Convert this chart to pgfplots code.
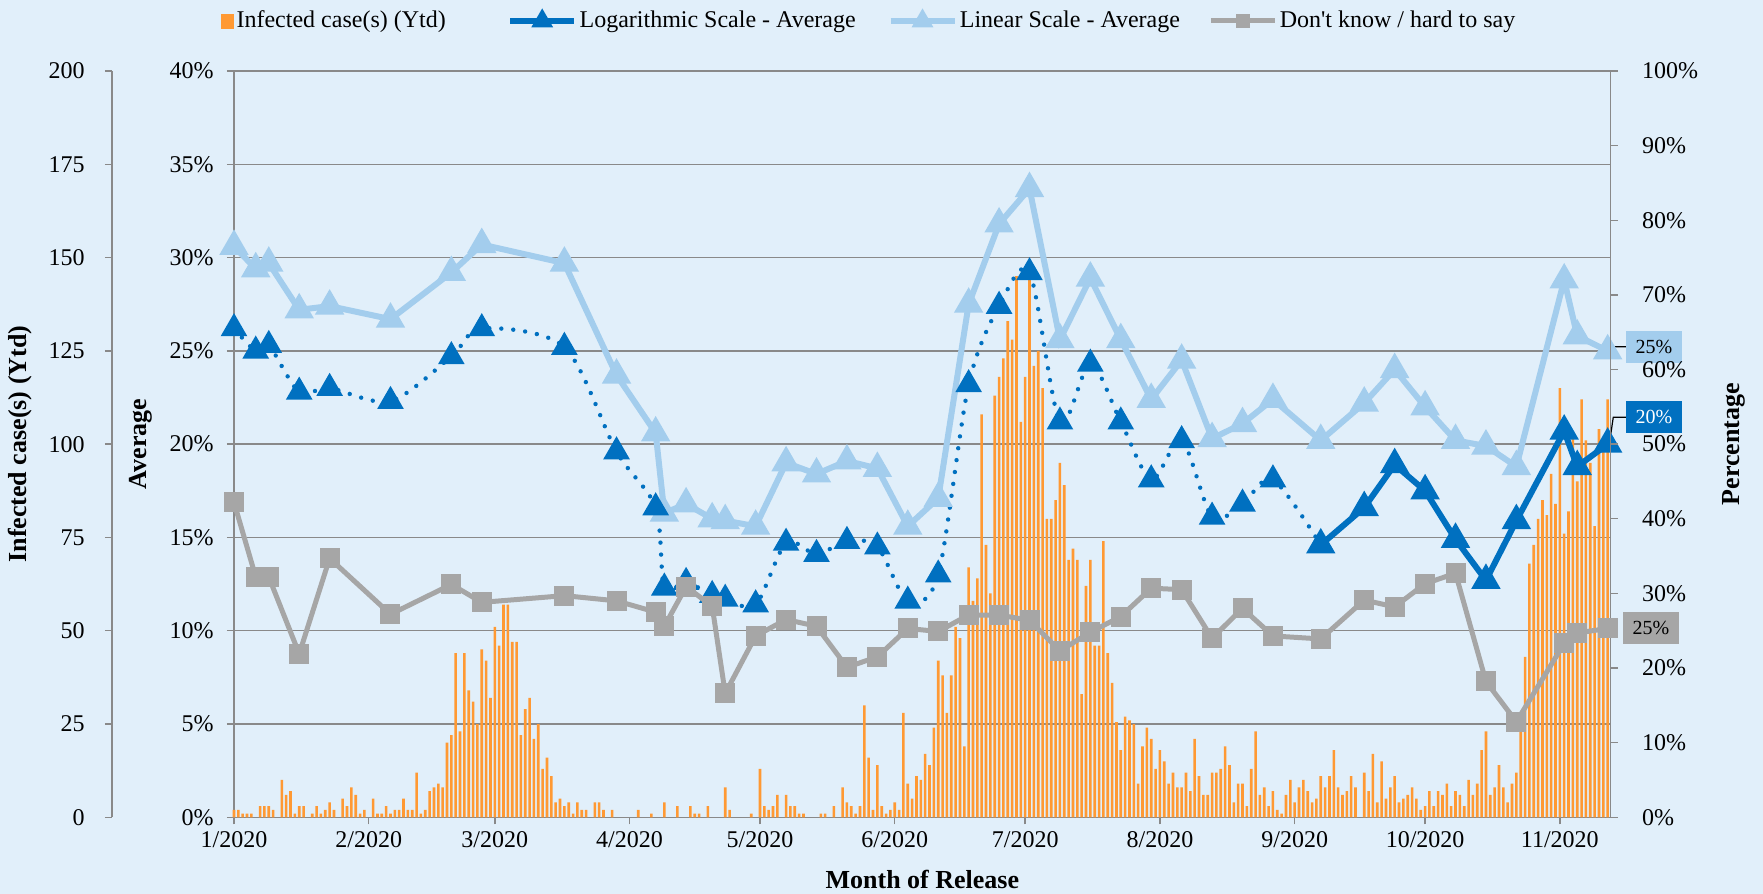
\documentclass[border=0pt]{standalone}
\usepackage{pgfplots}
\pgfplotsset{compat=1.18}
\usepackage{pgfplotstable}
\usepackage{fontspec}
\setmainfont{Liberation Serif}
\definecolor{bg}{HTML}{E1EFFA}
\definecolor{barorange}{HTML}{FF9933}
\definecolor{darkblue}{HTML}{0070C0}
\definecolor{lightblue}{HTML}{A3CDED}
\definecolor{dkgray}{HTML}{A6A6A6}
\definecolor{gridgray}{HTML}{898989}

\pgfplotsset{
  mylineleg/.style={legend image code/.code={\draw[mark repeat=2,mark phase=2,##1,every mark/.append style={scale=0.6}] plot coordinates {(0pt,0pt) (16pt,0pt) (32pt,0pt)};}},
  mybarleg/.style={legend image code/.code={\fill[barorange] (0pt,-3.5pt) rectangle (6pt,3.5pt);}},
  geom/.style={at={(117pt,38.35pt)}, anchor=south west, scale only axis, width=688.35pt, height=373.15pt, xmin=0, xmax=316.7},
  every axis/.append style={/pgf/number format/assume math mode=true},
}
\newcommand{\lblfont}{\bfseries\fontsize{13}{15}\selectfont}

\pgfplotstableread{
day lin logv dk
0 30.6 26.2 42.2
5 29.4 25.0 32.2
8 29.7 25.3 32.2
15 27.2 22.8 21.9
22 27.4 23.0 34.7
36 26.7 22.3 27.2
50 29.2 24.7 31.2
57 30.7 26.2 28.8
76 29.7 25.2 29.7
88 23.7 19.6 29.0
97 20.6 16.6 27.5
99 16.3 12.3 25.6
104 16.8 12.6 30.9
110 16.0 11.9 28.3
113 15.9 11.7 16.6
120 15.6 11.4 24.3
127 19.0 14.7 26.5
134 18.4 14.1 25.6
141 19.1 14.8 20.1
148 18.7 14.5 21.5
155 15.6 11.6 25.3
162 17.1 13.0 24.9
169 27.5 23.2 27.1
176 31.8 27.4 27.1
183 33.7 29.2 26.4
190 25.6 21.2 22.3
197 28.9 24.3 24.8
204 25.6 21.2 26.9
211 22.4 18.1 30.7
218 24.5 20.2 30.5
225 20.3 16.1 24.0
232 21.1 16.8 28.0
239 22.4 18.1 24.3
250 20.2 14.6 23.9
260 22.2 16.6 29.1
267 24.0 18.9 28.2
274 22.0 17.5 31.3
281 20.2 14.9 32.7
288 19.9 12.7 18.2
295 18.8 15.9 12.8
306 28.8 20.7 23.3
309 25.8 18.8 24.7
316 25.0 20.0 25.3
}\linestable

\begin{document}
\fontsize{12}{14.4}\selectfont
\begin{tikzpicture}
\fill[bg] (0,0) rectangle (881.5pt,447pt);
\useasboundingbox (0,0) rectangle (881.5pt,447pt);

% Axis A: Average scale, grid, x axis
\begin{axis}[geom, ymin=0, ymax=40,
  axis line style={gridgray, line width=0.7pt},
  xtick={0,31,60,91,121,152,182,213,244,274,305},
  xticklabels={1/2020,2/2020,3/2020,4/2020,5/2020,6/2020,7/2020,8/2020,9/2020,10/2020,11/2020},
  ytick={0,5,...,40},
  yticklabel={\pgfmathprintnumber{\tick}\%},
  ymajorgrids, major grid style={gridgray, line width=0.7pt},
  tick align=outside, major tick length=3.5pt,
  tick style={gridgray, line width=0.7pt},
  xtick pos=left, ytick pos=left,
  yticklabel style={anchor=east, inner sep=0pt, xshift=-6.5pt},
  xticklabel style={anchor=north, inner sep=0pt, yshift=-3.5pt},
  xlabel={Month of Release}, ylabel={Average},
  every axis x label/.style={at={(axis description cs:0.5,-0.083)}, anchor=center, font=\lblfont},
  every axis y label/.style={at={(axis description cs:-0.0675,0.5)}, anchor=center, rotate=90, font=\lblfont},
]
\addplot[draw=none] coordinates {(0,0)};
\end{axis}

% Axis B: Infected cases (bars), outer left axis
\begin{axis}[at={(56pt,38.35pt)}, anchor=south west, scale only axis,
  width=749.35pt, height=373.15pt, xmin=-28.065, xmax=316.7, ymin=0, ymax=200,
  hide x axis, axis y line*=left,
  axis line style={gridgray, line width=0.7pt},
  ytick={0,25,...,200},
  tick align=outside, major tick length=3.5pt,
  tick style={gridgray, line width=0.7pt},
  yticklabel style={anchor=east, inner sep=0pt, xshift=-10pt},
  ylabel={Infected case(s) (Ytd)},
  every axis y label/.style={at={(axis description cs:-0.0614,0.5)}, anchor=center, rotate=90, font=\lblfont},
]
\addplot[ybar, bar width=1.3pt, fill=barorange, draw=none] coordinates {
(0,2)(1,2)(2,1)(3,1)(4,1)(6,3)(7,3)(8,3)(9,2)(11,10)(12,6)(13,7)(14,1)(15,3)(16,3)(18,1)(19,3)(20,1)(21,2)(22,4)(23,2)(25,5)(26,3)(27,8)(28,6)(29,1)(30,2)(32,5)(33,1)(34,1)(35,3)(36,1)(37,2)(38,2)(39,5)(40,2)(41,2)(42,12)(43,1)(44,2)(45,7)(46,8)(47,9)(48,8)(49,20)(50,22)(51,44)(52,23)(53,44)(54,34)(55,31)(56,25)(57,45)(58,42)(59,32)(60,51)(61,46)(62,57)(63,57)(64,47)(65,47)(66,22)(67,29)(68,32)(69,21)(70,25)(71,13)(72,16)(73,11)(74,4)(75,5)(76,3)(77,4)(78,1)(79,4)(80,2)(81,2)(83,4)(84,4)(85,2)(87,2)(93,2)(96,1)(99,4)(102,3)
(105,3)(106,1)(107,1)(109,3)(113,8)(114,2)(119,1)(121,13)(122,3)(123,2)(124,3)(125,6)(127,6)(128,3)(129,3)(130,1)(131,1)(135,1)(136,1)(138,3)(140,8)(141,4)(142,3)(143,1)(144,3)(145,30)(146,16)(147,2)(148,14)(149,3)(150,1)(151,2)(152,4)(153,2)(154,28)(155,9)(156,5)(157,11)(158,10)(159,17)(160,14)
(161,24)(162,42)(163,38)(164,28)(165,38)(166,51)(167,48)(168,19)(169,67)(170,58)(171,64)(172,108)(173,73)(174,60)(175,113)(176,118)(177,123)(178,133)(179,128)(180,145)(181,106)(182,118)(183,148)(184,121)(185,125)(186,115)(187,80)(188,80)(189,85)(190,95)(191,89)(192,69)(193,72)(194,69)(195,33)(196,62)(197,69)(198,46)(199,46)
(200,74)(201,44)(202,36)(203,25.5)(204,18)(205,27)(206,26)(207,25)(208,9)(209,19)(210,24)(211,21)(212,13)(213,18)(214,15)(215,9)(216,12)(217,8)(218,8)(219,12)(220,7)(221,21)(222,11)(223,6)(224,6)(225,12)(226,12)(227,13)(228,19)(229,14)(230,4)(231,9)(232,9)(233,3)(234,13)(235,23)(236,6)(237,8)(238,3)(239,7)(240,2)(241,1)(242,6)(243,10)(244,4)(245,8)(246,10)(247,7)(248,4)(249,5)(250,11)(251,8)(252,11)(253,18)(254,8)(255,6)(256,7)(257,11)(258,8)(260,12)(261,7)(262,17)(263,4)(264,15)(265,5)(266,8)(267,11)(268,4)(269,5)(270,6)(271,8)(272,5)(273,2)(274,3)(275,7)(276,3)(277,7)(278,6)(279,9)(280,3)(281,7)(282,6)
(283,3)(284,10)(285,6)(286,9)(287,18)(288,23)(289,6)(290,8)(291,14)(292,8)(293,4)(294,9)(295,12)(296,26)(297,43)(298,68)(299,73)(300,80)(301,85)(302,81)(303,92)(304,84)(305,115)(306,76)(307,82)(308,103)(309,90)(310,112)(311,101)(312,95)(313,78)(314,104)(315,100)(316,112)
};
\end{axis}

% Axis C: Average lines
\begin{axis}[geom, ymin=0, ymax=40, hide axis, clip=false]
\addplot[lightblue, line width=3pt, mark=triangle*, mark size=5.5pt] table[x=day,y=lin]{\linestable};
\addplot[darkblue, line width=2.2pt, dash pattern=on 0pt off 6pt, line cap=round, smooth, mark=triangle*, mark size=5.5pt, mark options={solid}, restrict x to domain=0:250] table[x=day,y=logv]{\linestable};
\addplot[darkblue, line width=3pt, mark=triangle*, mark size=5.5pt, restrict x to domain=250:316] table[x=day,y=logv]{\linestable};
\draw[black, line width=0.6pt] ([xshift=1pt]axis cs:316,25) -- ([xshift=2.8pt,yshift=2.1pt]axis cs:316,25) -- ([xshift=9.2pt,yshift=2.1pt]axis cs:316,25);
\node[fill=lightblue, text=black, minimum width=28pt, minimum height=16pt, inner sep=0pt, font=\fontsize{10}{12}\selectfont] at ([xshift=23.1pt,yshift=1.7pt]axis cs:316,25) {25\%};
\draw[black, line width=0.6pt] ([xshift=0.8pt]axis cs:316,20) -- ([xshift=2.8pt,yshift=13.4pt]axis cs:316,20) -- ([xshift=9.2pt,yshift=13.4pt]axis cs:316,20);
\node[fill=darkblue, text=white, minimum width=28pt, minimum height=16pt, inner sep=0pt, font=\fontsize{10}{12}\selectfont] at ([xshift=23.1pt,yshift=13.4pt]axis cs:316,20) {20\%};
\end{axis}

% Axis D: Percentage (right)
\begin{axis}[geom, ymin=0, ymax=100, clip=false,
  hide x axis, axis y line*=right,
  axis line style={gridgray, line width=0.7pt},
  ytick={0,10,...,100},
  yticklabel={\pgfmathprintnumber{\tick}\%},
  tick align=outside, major tick length=3.5pt,
  tick style={gridgray, line width=0.7pt},
  yticklabel style={anchor=west, inner sep=0pt, xshift=12pt},
  ylabel={Percentage},
  every axis y label/.style={at={(axis description cs:1.0896,0.5)}, anchor=center, rotate=90, font=\lblfont},
  legend columns=4,
  legend cell align=left,
  legend style={draw=none, fill=none, at={(axis description cs:0,1)}, anchor=west,
    xshift=-6.5pt, yshift=25pt, inner sep=0pt, nodes={inner sep=1.2pt},
    font=\fontsize{12}{14.4}\selectfont,
    /tikz/column 2/.style={column sep=29.5pt},
    /tikz/column 4/.style={column sep=14.7pt},
    /tikz/column 6/.style={column sep=13pt}},
]
\addlegendimage{mybarleg}
\addlegendentry{Infected case(s) (Ytd)}
\addlegendimage{mylineleg, darkblue, line width=3pt, mark=triangle*, mark size=5.5pt}
\addlegendentry{Logarithmic Scale - Average}
\addlegendimage{mylineleg, lightblue, line width=3pt, mark=triangle*, mark size=5.5pt}
\addlegendentry{Linear Scale - Average}
\addplot[mylineleg, dkgray, line width=2.5pt, mark=square*, mark size=3.75pt] table[x=day,y=dk]{\linestable};
\addlegendentry{Don\textquotesingle t know / hard to say}
\node[fill=dkgray, text=black, minimum width=28pt, minimum height=16pt, inner sep=0pt, font=\fontsize{10}{12}\selectfont] at ([xshift=21.6pt]axis cs:316,25.3) {25\%};
\end{axis}
\end{tikzpicture}
\end{document}
